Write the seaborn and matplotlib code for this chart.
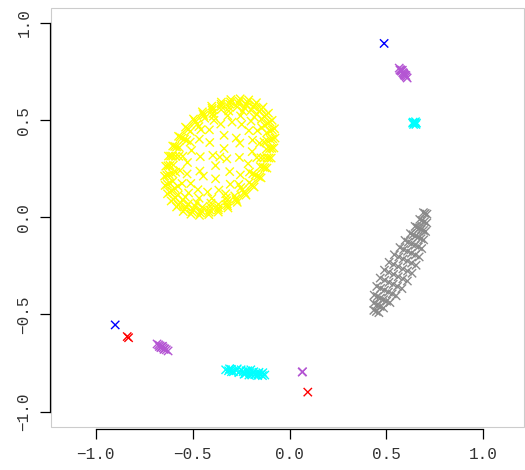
import matplotlib
matplotlib.use("Agg")
import matplotlib.pyplot as plt
import matplotlib.patches as mpatches
import seaborn as sns
import pandas as pd

# ---------------- data ----------------
yellow_x = [
    # outer rim
    -0.137, -0.171, -0.211, -0.255, -0.303, -0.352, -0.402, -0.450, -0.496, -0.537, -0.573, -0.603,
    -0.625, -0.639, -0.645, -0.642, -0.630, -0.611, -0.583, -0.549, -0.509, -0.465, -0.417, -0.368,
    -0.318, -0.270, -0.225, -0.183, -0.147, -0.117, -0.095, -0.081, -0.075, -0.078, -0.090, -0.109,
    -0.146, -0.179, -0.217, -0.260, -0.305, -0.353, -0.400, -0.447, -0.490, -0.530, -0.565, -0.593,
    -0.614, -0.628, -0.633, -0.630, -0.619, -0.600, -0.574, -0.541, -0.503, -0.460, -0.415, -0.368,
    -0.320, -0.274, -0.230, -0.190, -0.155, -0.127, -0.106, -0.092, -0.087, -0.090, -0.101, -0.120,
    -0.155, -0.186, -0.223, -0.264, -0.308, -0.353, -0.399, -0.443, -0.485, -0.523, -0.556, -0.583,
    -0.604, -0.617, -0.622, -0.619, -0.608, -0.590, -0.565, -0.534, -0.497, -0.456, -0.412, -0.367,
    -0.322, -0.277, -0.235, -0.197, -0.164, -0.137, -0.116, -0.103, -0.098, -0.101, -0.112, -0.130,
    -0.168, -0.198, -0.232, -0.270, -0.311, -0.353, -0.396, -0.438, -0.477, -0.512, -0.543, -0.569,
    -0.588, -0.600, -0.605, -0.602, -0.592, -0.575, -0.552, -0.523, -0.488, -0.450, -0.409, -0.367,
    -0.324, -0.283, -0.244, -0.208, -0.177, -0.151, -0.132, -0.120, -0.115, -0.118, -0.128, -0.145,
    # inner
    -0.182, -0.241, -0.314, -0.393, -0.468, -0.531, -0.572, -0.588, -0.576,
    -0.538, -0.479, -0.406, -0.327, -0.252, -0.190, -0.148, -0.132, -0.144,
    -0.199, -0.253, -0.319, -0.390, -0.458, -0.513, -0.551, -0.565, -0.555,
    -0.521, -0.467, -0.401, -0.330, -0.262, -0.207, -0.169, -0.155, -0.166,
    -0.247, -0.297, -0.355, -0.414, -0.466, -0.506, -0.527, -0.529, -0.510,
    -0.473, -0.423, -0.365, -0.306, -0.254, -0.214, -0.193, -0.191, -0.210,
    -0.275, -0.338, -0.412, -0.461, -0.463, -0.445, -0.382, -0.309, -0.259, -0.257,
    -0.338, -0.382, -0.396, -0.324, -0.360,
]
yellow_y = [
    0.567, 0.590, 0.604, 0.610, 0.606, 0.593, 0.572, 0.543, 0.506, 0.464, 0.417, 0.367,
    0.315, 0.263, 0.212, 0.164, 0.121, 0.084, 0.053, 0.030, 0.016, 0.010, 0.014, 0.027,
    0.048, 0.077, 0.114, 0.156, 0.203, 0.253, 0.305, 0.357, 0.408, 0.456, 0.499, 0.536,
    0.557, 0.579, 0.593, 0.598, 0.594, 0.582, 0.561, 0.533, 0.499, 0.458, 0.413, 0.365,
    0.315, 0.265, 0.216, 0.170, 0.129, 0.093, 0.063, 0.041, 0.028, 0.022, 0.026, 0.038,
    0.059, 0.087, 0.122, 0.162, 0.207, 0.255, 0.305, 0.355, 0.404, 0.450, 0.491, 0.527,
    0.546, 0.568, 0.581, 0.586, 0.582, 0.571, 0.551, 0.524, 0.491, 0.452, 0.408, 0.362,
    0.315, 0.267, 0.220, 0.176, 0.136, 0.102, 0.074, 0.053, 0.039, 0.034, 0.038, 0.049,
    0.069, 0.096, 0.129, 0.168, 0.212, 0.258, 0.306, 0.354, 0.400, 0.444, 0.484, 0.518,
    0.531, 0.551, 0.563, 0.568, 0.565, 0.554, 0.535, 0.510, 0.479, 0.442, 0.402, 0.359,
    0.314, 0.269, 0.226, 0.185, 0.148, 0.115, 0.089, 0.069, 0.057, 0.052, 0.056, 0.066,
    0.085, 0.110, 0.141, 0.178, 0.218, 0.261, 0.306, 0.351, 0.394, 0.435, 0.473, 0.505,
    0.516, 0.545, 0.547, 0.520, 0.467, 0.396, 0.314, 0.232, 0.159,
    0.104, 0.075, 0.073, 0.100, 0.153, 0.224, 0.306, 0.388, 0.461,
    0.495, 0.522, 0.523, 0.499, 0.451, 0.387, 0.314, 0.240, 0.174,
    0.125, 0.098, 0.097, 0.121, 0.169, 0.233, 0.307, 0.381, 0.446,
    0.478, 0.490, 0.480, 0.450, 0.402, 0.344, 0.282, 0.223, 0.174,
    0.142, 0.130, 0.140, 0.170, 0.218, 0.276, 0.338, 0.397, 0.446,
    0.408, 0.422, 0.385, 0.312, 0.238, 0.212, 0.198, 0.235, 0.308, 0.382,
    0.354, 0.266, 0.319, 0.301, 0.310,
]

gray_x = [
    0.691, 0.700, 0.709,
    0.672, 0.684, 0.696, 0.708,
    0.648, 0.659, 0.670, 0.680, 0.691, 0.702,
    0.624, 0.637, 0.651, 0.665, 0.679, 0.692,
    0.596, 0.613, 0.630, 0.648, 0.665, 0.682,
    0.570, 0.589, 0.609, 0.629, 0.649, 0.669,
    0.541, 0.564, 0.586, 0.608, 0.630, 0.653,
    0.514, 0.537, 0.561, 0.585, 0.609, 0.632,
    0.490, 0.513, 0.537, 0.561, 0.585, 0.608,
    0.468, 0.491, 0.513, 0.535, 0.557, 0.580,
    0.450, 0.470, 0.490, 0.510, 0.530, 0.550,
    0.437, 0.453, 0.469, 0.485, 0.501, 0.518,
    0.435, 0.452, 0.468, 0.485,
    0.435, 0.448, 0.461,
]
gray_y = [
    0.024, 0.020, 0.016,
    -0.011, -0.017, -0.023, -0.029,
    -0.047, -0.052, -0.057, -0.063, -0.068, -0.073,
    -0.084, -0.090, -0.097, -0.103, -0.110, -0.116,
    -0.119, -0.128, -0.136, -0.144, -0.152, -0.161,
    -0.156, -0.166, -0.175, -0.185, -0.194, -0.204,
    -0.193, -0.204, -0.215, -0.225, -0.236, -0.247,
    -0.232, -0.243, -0.254, -0.266, -0.277, -0.288,
    -0.272, -0.283, -0.294, -0.306, -0.317, -0.328,
    -0.313, -0.324, -0.335, -0.345, -0.356, -0.367,
    -0.356, -0.366, -0.375, -0.385, -0.394, -0.404,
    -0.401, -0.408, -0.416, -0.424, -0.432, -0.439,
    -0.443, -0.451, -0.459, -0.467,
    -0.479, -0.485, -0.491,
]

cyan_x = [
    -0.330, -0.315, -0.300, -0.290, -0.275, -0.262, -0.250, -0.240, -0.228, -0.215,
    -0.205, -0.195, -0.185, -0.175, -0.165, -0.158, -0.148, -0.138, -0.128, -0.300,
    -0.270, -0.225, -0.200, -0.180, -0.160, -0.140, -0.310, -0.235, -0.210, -0.190,
    0.638, 0.645, 0.652, 0.640, 0.650, 0.645, 0.655, 0.635,
]
cyan_y = [
    -0.785, -0.790, -0.783, -0.795, -0.788, -0.800, -0.785, -0.795, -0.805, -0.790,
    -0.800, -0.812, -0.795, -0.805, -0.815, -0.798, -0.808, -0.800, -0.812, -0.795,
    -0.780, -0.790, -0.785, -0.810, -0.805, -0.815, -0.780, -0.808, -0.812, -0.800,
    0.490, 0.483, 0.478, 0.478, 0.492, 0.487, 0.485, 0.485,
]

purple_x = [
    0.566, 0.572, 0.578, 0.584, 0.590, 0.596, 0.602, 0.607, 0.575, 0.593,
    0.570, 0.582, 0.588, 0.600,
    -0.684, -0.676, -0.668, -0.660, -0.652, -0.644, -0.636, -0.627, -0.672, -0.656,
    -0.648, -0.664,
    0.065, 0.067,
]
purple_y = [
    0.768, 0.760, 0.752, 0.745, 0.737, 0.730, 0.723, 0.717, 0.756, 0.733,
    0.758, 0.757, 0.742, 0.730,
    -0.652, -0.657, -0.662, -0.667, -0.672, -0.677, -0.682, -0.688, -0.665, -0.664,
    -0.680, -0.671,
    -0.797, -0.795,
]

blue_x = [0.488, -0.900]
blue_y = [0.895, -0.554]

red_x = [-0.838, -0.831, 0.094]
red_y = [-0.614, -0.620, -0.900]

tick_values = [-1.0, -0.5, 0.0, 0.5, 1.0]
tick_labels = ["\u22121.0", "\u22120.5", "0.0", "0.5", "1.0"]

colors = {
    "yellow": "#FFFF00",
    "gray": "#8A8A8A",
    "cyan": "#00FFFF",
    "purple": "#B455D3",
    "blue": "#0000FF",
    "red": "#FF0000",
}

# ---------------- build table ----------------
frames = []
for name, xs, ys in [("yellow", yellow_x, yellow_y), ("gray", gray_x, gray_y),
                     ("cyan", cyan_x, cyan_y), ("purple", purple_x, purple_y),
                     ("blue", blue_x, blue_y), ("red", red_x, red_y)]:
    frames.append(pd.DataFrame({"x": xs, "y": ys, "group": name}))
df = pd.concat(frames, ignore_index=True)

# ---------------- plot ----------------
sns.set_style("white")
plt.rcParams["font.family"] = ["Liberation Mono", "DejaVu Sans Mono"]

fig = plt.figure(figsize=(5.25, 4.70), dpi=100)
ax = fig.add_axes([50.5 / 525, 1 - 426.5 / 470, (524 - 50.5) / 525, (426.5 - 7.5) / 470])

sns.scatterplot(data=df, x="x", y="y", hue="group", palette=colors, marker="x",
                s=36, linewidth=1.0, legend=False, ax=ax)

ax.set_xlim(-1.234, 1.21)
ax.set_ylim(-1.077, 1.08)
ax.set_xlabel("")
ax.set_ylabel("")

# light gray plot frame
frame = mpatches.Rectangle((0, 0), 1, 1, transform=ax.transAxes, fill=False,
                           edgecolor="#CCCCCC", linewidth=0.8, clip_on=False, zorder=0)
ax.add_patch(frame)

for side in ["top", "right"]:
    ax.spines[side].set_visible(False)
for side in ["left", "bottom"]:
    ax.spines[side].set_color("black")
    ax.spines[side].set_linewidth(0.9)
    ax.spines[side].set_bounds(-1.0, 1.0)
ax.spines["bottom"].set_position(("outward", 1.5))
ax.spines["left"].set_position(("outward", 0.5))

ax.set_xticks(tick_values)
ax.set_xticklabels(tick_labels)
ax.set_yticks(tick_values)
ax.set_yticklabels(tick_labels)
ax.tick_params(axis="both", which="major", bottom=True, left=True, top=False, right=False,
               direction="out", length=7.2, width=0.9, color="black",
               labelsize=11.5, labelcolor="#333333")
ax.tick_params(axis="x", pad=6)
ax.tick_params(axis="y", pad=6, labelrotation=90)
for lbl in ax.get_yticklabels():
    lbl.set_va("center")

fig.savefig("out.png", dpi=100)
